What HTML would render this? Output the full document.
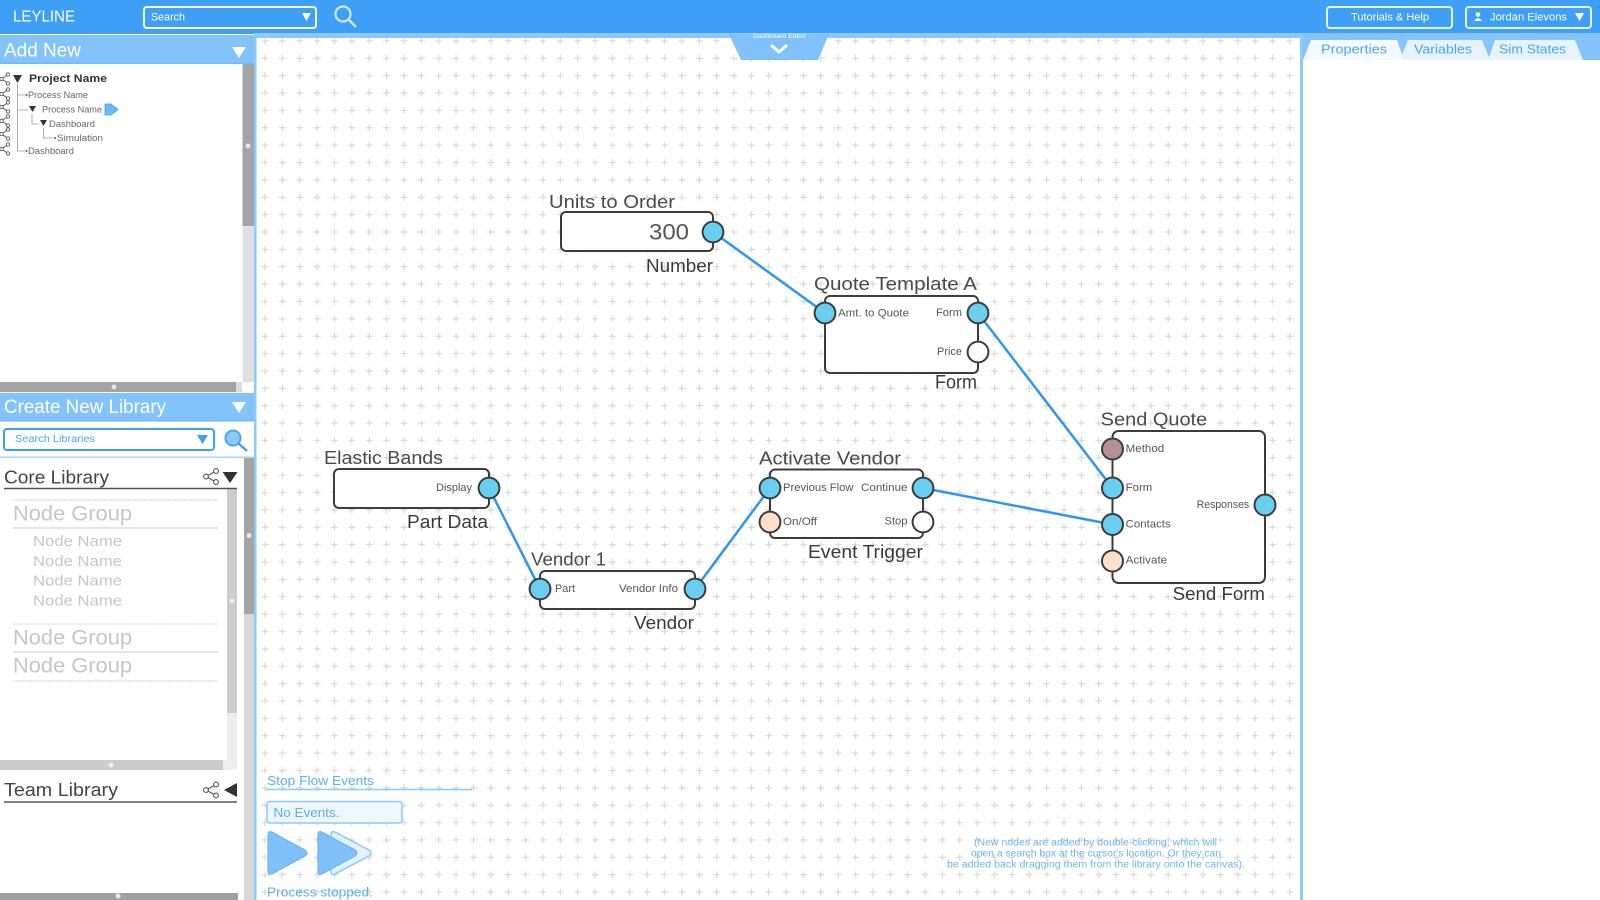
<!DOCTYPE html>
<html><head><meta charset="utf-8"><style>
html,body{margin:0;padding:0;width:1600px;height:900px;overflow:hidden;background:#fff}
svg{display:block;font-family:"Liberation Sans",sans-serif}
</style></head><body>
<svg width="1600" height="900" viewBox="0 0 1600 900" xmlns="http://www.w3.org/2000/svg">
<defs>
<pattern id="grid" x="256.315" y="49.615" width="17.37" height="17.37" patternUnits="userSpaceOnUse">
<path d="M5.2 8.685H12.17M8.685 5.2V12.17" stroke="#d2d2d2" stroke-width="1"/>
</pattern>
<g id="share"><path d="M1.5 0L8 -4.5M1.5 0L8 4.5" stroke="#555" stroke-width="0.9" fill="none"/><circle cx="1.5" cy="0" r="1.7" fill="#fff" stroke="#555" stroke-width="0.9"/><circle cx="8" cy="-4.5" r="1.7" fill="#fff" stroke="#555" stroke-width="0.9"/><circle cx="8" cy="4.5" r="1.7" fill="#fff" stroke="#555" stroke-width="0.9"/></g>
<g id="share2"><path d="M3 0L13 -5.5M3 0L13 5.5" stroke="#555" stroke-width="1.1" fill="none"/><circle cx="3" cy="0" r="2.4" fill="#fff" stroke="#555" stroke-width="1.1"/><circle cx="13" cy="-5.5" r="2.4" fill="#fff" stroke="#555" stroke-width="1.1"/><circle cx="13" cy="5.5" r="2.4" fill="#fff" stroke="#555" stroke-width="1.1"/></g>
</defs>

<!-- canvas -->
<rect x="256" y="38" width="1045" height="862" fill="#fff"/>
<rect x="256" y="38" width="1045" height="862" fill="url(#grid)"/>

<!-- top bar -->
<rect x="0" y="0" width="1600" height="34" fill="#3d9ff5"/>
<rect x="254" y="33" width="1050" height="5" fill="#8ec9fb"/>
<text x="13" y="17" dominant-baseline="central" font-size="16" fill="#fff" textLength="62" lengthAdjust="spacingAndGlyphs">LEYLINE</text>
<rect x="144" y="7" width="172" height="21" rx="3" fill="none" stroke="#fff" stroke-width="2"/>
<text x="151" y="17.5" dominant-baseline="central" font-size="11" fill="#fff" textLength="34" lengthAdjust="spacingAndGlyphs">Search</text>
<polygon points="302,13 311,13 306.5,21" fill="#fff"/>
<circle cx="343" cy="14" r="7.5" fill="none" stroke="#cfe6fd" stroke-width="2.2"/>
<line x1="348.5" y1="19.5" x2="356" y2="27" stroke="#cfe6fd" stroke-width="2.5"/>
<rect x="1327" y="7" width="125" height="21" rx="3" fill="none" stroke="#e8f3fe" stroke-width="2"/>
<text x="1351" y="17.5" dominant-baseline="central" font-size="11" fill="#fff" textLength="78" lengthAdjust="spacingAndGlyphs">Tutorials &amp; Help</text>
<rect x="1466" y="7" width="125" height="21" rx="3" fill="none" stroke="#e8f3fe" stroke-width="2"/>
<circle cx="1478" cy="14.5" r="2.3" fill="#fff"/>
<path d="M1474 21 Q1478 15.5 1482 21 Z" fill="#fff"/>
<text x="1490" y="17.5" dominant-baseline="central" font-size="11" fill="#fff" textLength="77" lengthAdjust="spacingAndGlyphs">Jordan Elevons</text>
<polygon points="1575,13 1584,13 1579.5,21" fill="#fff"/>

<!-- dashboard editor tab -->
<polygon points="729,34 829,34 818,60 741,60" fill="#80c1fb"/>
<text x="753" y="37" dominant-baseline="central" font-size="6" fill="#fff" textLength="53" lengthAdjust="spacingAndGlyphs">Dashboard Editor</text>
<polyline points="771,45 779,52 787,45" fill="none" stroke="#fff" stroke-width="3"/>

<!-- canvas borders -->
<rect x="254" y="35" width="2.5" height="865" fill="#8ec9fb"/>
<rect x="1300" y="33" width="3" height="867" fill="#8ec9fb"/>

<!-- right panel -->
<rect x="1303" y="33" width="297" height="867" fill="#fff"/>
<rect x="1303" y="33" width="297" height="27" fill="#85c4fb"/>
<polygon points="1488,60 1495,40 1575,40 1583,60" fill="#e6f3fe"/>
<polygon points="1400,60 1408,40 1482,40 1490,60" fill="#e6f3fe"/>
<polygon points="1303,60 1311,40 1397,40 1404,60" fill="#f4f9ff"/>
<text x="1321" y="49" dominant-baseline="central" font-size="13" fill="#4aa6f5" textLength="66" lengthAdjust="spacingAndGlyphs">Properties</text>
<text x="1414" y="49" dominant-baseline="central" font-size="13" fill="#4aa6f5" textLength="58" lengthAdjust="spacingAndGlyphs">Variables</text>
<text x="1499" y="49" dominant-baseline="central" font-size="13" fill="#4aa6f5" textLength="67" lengthAdjust="spacingAndGlyphs">Sim States</text>

<!-- ========== LEFT PANEL ========== -->
<rect x="0" y="34" width="254" height="866" fill="#fff"/>
<rect x="0" y="35" width="254" height="29" fill="#83c3fb"/>
<rect x="0" y="62.5" width="254" height="1.5" fill="#6fb8fa"/>
<text x="4" y="51" dominant-baseline="central" font-size="19" fill="#fff" textLength="77" lengthAdjust="spacingAndGlyphs">Add New</text>
<polygon points="232,47 246,47 239,58" fill="#fff"/>

<!-- tree -->
<use href="#share" x="0" y="79"/>
<use href="#share" x="0" y="94"/>
<use href="#share" x="0" y="107"/>
<use href="#share" x="0" y="121"/>
<use href="#share" x="0" y="134"/>
<use href="#share" x="0" y="149"/>
<g stroke="#9a9a9a" stroke-width="0.8" fill="none">
<path d="M17.5 84V151H25M17.5 95H25M17.5 110H28"/>
<path d="M32 114V124H39"/>
<path d="M43.5 128V138H53"/>
</g>
<polygon points="13,75 22,75 17.5,83" fill="#333"/>
<text x="29" y="79" dominant-baseline="central" font-size="11" font-weight="bold" fill="#333" textLength="78" lengthAdjust="spacingAndGlyphs">Project Name</text>
<circle cx="26.5" cy="95" r="1" fill="#555"/>
<text x="28" y="95" dominant-baseline="central" font-size="9" fill="#666" textLength="60" lengthAdjust="spacingAndGlyphs">Process Name</text>
<polygon points="29,106 36,106 32.5,112" fill="#333"/>
<text x="42" y="109.5" dominant-baseline="central" font-size="9" fill="#666" textLength="60" lengthAdjust="spacingAndGlyphs">Process Name</text>
<path d="M105 104 L111 104 L118 109.5 L111 115 L105 115 Z" fill="#6db8f8" stroke="#3d9ff5" stroke-width="0.8"/>
<polygon points="40,120 47,120 43.5,126" fill="#333"/>
<text x="49" y="124" dominant-baseline="central" font-size="9" fill="#666" textLength="46" lengthAdjust="spacingAndGlyphs">Dashboard</text>
<circle cx="55" cy="138" r="1" fill="#555"/>
<text x="57" y="138" dominant-baseline="central" font-size="9" fill="#666" textLength="46" lengthAdjust="spacingAndGlyphs">Simulation</text>
<circle cx="26.5" cy="151" r="1" fill="#555"/>
<text x="28" y="151" dominant-baseline="central" font-size="9" fill="#666" textLength="46" lengthAdjust="spacingAndGlyphs">Dashboard</text>

<!-- scrollbars top section -->
<rect x="242.5" y="64" width="11.5" height="162" fill="#a4a4a4"/>
<rect x="242.5" y="226" width="11.5" height="156" fill="#e0e0e0"/>
<circle cx="248" cy="146" r="2.5" fill="#e6e6e6"/>
<rect x="0" y="382" width="236" height="10" fill="#a4a4a4"/>
<rect x="236" y="382" width="6" height="10" fill="#dcdcdc"/>
<circle cx="114" cy="387" r="2.5" fill="#e6e6e6"/>

<!-- Create new library -->
<rect x="0" y="393" width="254" height="28" fill="#83c3fb"/>
<rect x="0" y="420" width="254" height="1.5" fill="#6fb8fa"/>
<text x="4" y="407.5" dominant-baseline="central" font-size="19" fill="#fff" textLength="162" lengthAdjust="spacingAndGlyphs">Create New Library</text>
<polygon points="232,402 246,402 239,413" fill="#fff"/>
<rect x="4" y="429" width="210" height="21" rx="3" fill="#fff" stroke="#3d9ff5" stroke-width="2"/>
<text x="15" y="439.5" dominant-baseline="central" font-size="10" fill="#4aa6f5" textLength="80" lengthAdjust="spacingAndGlyphs">Search Libraries</text>
<polygon points="197,435 208,435 202.5,444" fill="#3d9ff5"/>
<circle cx="233" cy="438" r="7.5" fill="#8ccafc" stroke="#4aa6f5" stroke-width="2"/>
<line x1="238.5" y1="443.5" x2="247" y2="451" stroke="#3d9ff5" stroke-width="2.5"/>
<rect x="0" y="456.5" width="254" height="1.5" fill="#a8d4fb"/>

<!-- core library scrollbars -->
<rect x="244" y="458" width="10" height="156" fill="#a4a4a4"/>
<rect x="244" y="614" width="10" height="286" fill="#d8d8d8"/>
<circle cx="249" cy="535.5" r="2.5" fill="#e6e6e6"/>
<rect x="227" y="489" width="10" height="224" fill="#cccccc"/>
<rect x="227" y="713" width="10" height="47" fill="#ececec"/>
<circle cx="232" cy="601" r="2.3" fill="#eee"/>
<rect x="0" y="760" width="223" height="10" fill="#cccccc"/>
<rect x="223" y="760" width="14" height="10" fill="#eeeeee"/>
<circle cx="111" cy="765" r="2.5" fill="#eee"/>

<text x="4" y="477.5" dominant-baseline="central" font-size="18" fill="#444" textLength="105" lengthAdjust="spacingAndGlyphs">Core Library</text>
<use href="#share2" x="203" y="476.5"/>
<polygon points="222.5,472 237.5,472 230,483" fill="#333"/>
<line x1="4" y1="488.5" x2="237" y2="488.5" stroke="#555" stroke-width="1.5"/>

<g stroke="#c9c9c9" stroke-width="1">
<line x1="13" y1="500" x2="218" y2="500" stroke-dasharray="1.5,1"/>
<line x1="13" y1="528" x2="218" y2="528"/>
<line x1="13" y1="624" x2="218" y2="624" stroke-dasharray="1.5,1"/>
<line x1="13" y1="652" x2="218" y2="652"/>
<line x1="13" y1="681" x2="218" y2="681" stroke-dasharray="1.5,1"/>
</g>
<text x="13" y="514" dominant-baseline="central" font-size="21" fill="#c6c6c6" textLength="119" lengthAdjust="spacingAndGlyphs">Node Group</text>
<text x="33" y="541.5" dominant-baseline="central" font-size="15" fill="#c6c6c6" textLength="89" lengthAdjust="spacingAndGlyphs">Node Name</text>
<text x="33" y="561.5" dominant-baseline="central" font-size="15" fill="#c6c6c6" textLength="89" lengthAdjust="spacingAndGlyphs">Node Name</text>
<text x="33" y="581" dominant-baseline="central" font-size="15" fill="#c6c6c6" textLength="89" lengthAdjust="spacingAndGlyphs">Node Name</text>
<text x="33" y="601" dominant-baseline="central" font-size="15" fill="#c6c6c6" textLength="89" lengthAdjust="spacingAndGlyphs">Node Name</text>
<text x="13" y="638" dominant-baseline="central" font-size="21" fill="#c6c6c6" textLength="119" lengthAdjust="spacingAndGlyphs">Node Group</text>
<text x="13" y="666" dominant-baseline="central" font-size="21" fill="#c6c6c6" textLength="119" lengthAdjust="spacingAndGlyphs">Node Group</text>

<!-- team library -->
<text x="4" y="790" dominant-baseline="central" font-size="18" fill="#444" textLength="114" lengthAdjust="spacingAndGlyphs">Team Library</text>
<use href="#share2" x="203" y="790"/>
<polygon points="237,783 237,797 224,790" fill="#333"/>
<line x1="4" y1="802" x2="237" y2="802" stroke="#555" stroke-width="1.5"/>
<rect x="0" y="893" width="238" height="7" fill="#a0a0a0"/>
<circle cx="118" cy="896" r="2.5" fill="#e6e6e6"/>

<!-- ========== CANVAS CONTENT ========== -->
<!-- connectors -->
<g stroke="#2f96ef" stroke-width="2.5" fill="none" stroke-linecap="round">
<line x1="713" y1="232" x2="825" y2="313"/>
<line x1="978" y1="313" x2="1112.5" y2="488"/>
<line x1="489" y1="488" x2="540" y2="589"/>
<line x1="695" y1="589" x2="770" y2="488"/>
<line x1="923" y1="488" x2="1112.5" y2="524.5"/>
</g>

<!-- node boxes -->
<g fill="#fff" stroke="#3c3c3c" stroke-width="2">
<rect x="561" y="212" width="152" height="39" rx="5"/>
<rect x="825" y="296" width="153" height="77" rx="5"/>
<rect x="334" y="469" width="155" height="39" rx="5"/>
<rect x="540" y="571" width="155" height="38" rx="5"/>
<rect x="770" y="469.5" width="153" height="68.5" rx="5"/>
<rect x="1112.5" y="431" width="152.5" height="152" rx="6"/>
</g>

<!-- ports -->
<g stroke="#3c3c3c" stroke-width="2">
<circle cx="713" cy="232" r="10.4" fill="#69cff0"/>
<circle cx="825" cy="313" r="10.4" fill="#69cff0"/>
<circle cx="978" cy="313" r="10.4" fill="#69cff0"/>
<circle cx="978" cy="352" r="10.4" fill="#fff"/>
<circle cx="489" cy="488" r="10.4" fill="#69cff0"/>
<circle cx="540" cy="589" r="10.4" fill="#69cff0"/>
<circle cx="695" cy="589" r="10.4" fill="#69cff0"/>
<circle cx="770" cy="488" r="10.4" fill="#69cff0"/>
<circle cx="923" cy="488" r="10.4" fill="#69cff0"/>
<circle cx="770" cy="522" r="10.4" fill="#fde0c9"/>
<circle cx="923" cy="522" r="10.4" fill="#fff"/>
<circle cx="1112.5" cy="449" r="10.5" fill="#b59196"/>
<circle cx="1112.5" cy="488" r="10.5" fill="#69cff0"/>
<circle cx="1112.5" cy="524.5" r="10.5" fill="#69cff0"/>
<circle cx="1112.5" cy="561" r="10.5" fill="#fde0c9"/>
<circle cx="1265" cy="505" r="10.5" fill="#69cff0"/>
</g>

<!-- node text -->
<g fill="#4a4a4a">
<text x="549" y="202" dominant-baseline="central" font-size="18" textLength="126" lengthAdjust="spacingAndGlyphs">Units to Order</text>
<text x="649" y="232" dominant-baseline="central" font-size="22" fill="#555" textLength="40" lengthAdjust="spacingAndGlyphs">300</text>
<text x="646" y="266" dominant-baseline="central" font-size="18" fill="#3a3a3a" textLength="67" lengthAdjust="spacingAndGlyphs">Number</text>

<text x="814" y="284" dominant-baseline="central" font-size="18" textLength="163" lengthAdjust="spacingAndGlyphs">Quote Template A</text>
<text x="838" y="313.5" dominant-baseline="central" font-size="11" fill="#555" textLength="71" lengthAdjust="spacingAndGlyphs">Amt. to Quote</text>
<text x="936" y="313" dominant-baseline="central" font-size="11" fill="#555" textLength="26" lengthAdjust="spacingAndGlyphs">Form</text>
<text x="937" y="352" dominant-baseline="central" font-size="11" fill="#555" textLength="25" lengthAdjust="spacingAndGlyphs">Price</text>
<text x="935" y="383" dominant-baseline="central" font-size="19" fill="#3a3a3a" textLength="42" lengthAdjust="spacingAndGlyphs">Form</text>

<text x="324" y="458" dominant-baseline="central" font-size="18" textLength="119" lengthAdjust="spacingAndGlyphs">Elastic Bands</text>
<text x="436" y="488" dominant-baseline="central" font-size="11" fill="#555" textLength="36" lengthAdjust="spacingAndGlyphs">Display</text>
<text x="407" y="522" dominant-baseline="central" font-size="18" fill="#3a3a3a" textLength="81" lengthAdjust="spacingAndGlyphs">Part Data</text>

<text x="531" y="559.5" dominant-baseline="central" font-size="18" textLength="75" lengthAdjust="spacingAndGlyphs">Vendor 1</text>
<text x="555" y="589" dominant-baseline="central" font-size="11" fill="#555" textLength="20" lengthAdjust="spacingAndGlyphs">Part</text>
<text x="619" y="589" dominant-baseline="central" font-size="11" fill="#555" textLength="59" lengthAdjust="spacingAndGlyphs">Vendor Info</text>
<text x="634" y="623" dominant-baseline="central" font-size="18" fill="#3a3a3a" textLength="60" lengthAdjust="spacingAndGlyphs">Vendor</text>

<text x="759" y="458.5" dominant-baseline="central" font-size="18" textLength="142" lengthAdjust="spacingAndGlyphs">Activate Vendor</text>
<text x="783" y="488" dominant-baseline="central" font-size="11" fill="#555" textLength="70.5" lengthAdjust="spacingAndGlyphs">Previous Flow</text>
<text x="861" y="488" dominant-baseline="central" font-size="11" fill="#555" textLength="46.5" lengthAdjust="spacingAndGlyphs">Continue</text>
<text x="783" y="522" dominant-baseline="central" font-size="11" fill="#555" textLength="34" lengthAdjust="spacingAndGlyphs">On/Off</text>
<text x="884.5" y="521.5" dominant-baseline="central" font-size="11" fill="#555" textLength="23" lengthAdjust="spacingAndGlyphs">Stop</text>
<text x="808" y="552" dominant-baseline="central" font-size="18" fill="#3a3a3a" textLength="115" lengthAdjust="spacingAndGlyphs">Event Trigger</text>

<text x="1100.7" y="419.5" dominant-baseline="central" font-size="18" textLength="106.5" lengthAdjust="spacingAndGlyphs">Send Quote</text>
<text x="1125.7" y="449" dominant-baseline="central" font-size="11" fill="#555" textLength="38.5" lengthAdjust="spacingAndGlyphs">Method</text>
<text x="1125.7" y="488" dominant-baseline="central" font-size="11" fill="#555" textLength="26.5" lengthAdjust="spacingAndGlyphs">Form</text>
<text x="1125.7" y="524.5" dominant-baseline="central" font-size="11" fill="#555" textLength="45" lengthAdjust="spacingAndGlyphs">Contacts</text>
<text x="1125.7" y="560.5" dominant-baseline="central" font-size="11" fill="#555" textLength="41.5" lengthAdjust="spacingAndGlyphs">Activate</text>
<text x="1196.7" y="505" dominant-baseline="central" font-size="11" fill="#555" textLength="52.5" lengthAdjust="spacingAndGlyphs">Responses</text>
<text x="1172.7" y="594" dominant-baseline="central" font-size="18" fill="#3a3a3a" textLength="92.3" lengthAdjust="spacingAndGlyphs">Send Form</text>
</g>

<!-- stop flow events -->
<text x="267" y="780.5" dominant-baseline="central" font-size="13" fill="#5aaef7" textLength="107" lengthAdjust="spacingAndGlyphs">Stop Flow Events</text>
<line x1="266" y1="789.5" x2="472" y2="789.5" stroke="#8ec9fb" stroke-width="1.5"/>
<rect x="267" y="801.5" width="135" height="21.5" rx="3" fill="#eef6ff" stroke="#8ec9fb" stroke-width="1.5"/>
<text x="273.5" y="812.5" dominant-baseline="central" font-size="13" fill="#5aaef7" textLength="66" lengthAdjust="spacingAndGlyphs">No Events.</text>
<path d="M268 835 Q268 830 272.5 832.3 L305 850 Q309 853 305 856 L272.5 873.7 Q268 876 268 871 Z" fill="#7fc0fb" stroke="#5fb0f7" stroke-width="1"/>
<path d="M331 835 Q331 830 335.5 832.3 L369 850 Q373 853 369 856 L335.5 873.7 Q331 876 331 871 Z" fill="#e3f1fe" stroke="#8ec9fb" stroke-width="1.5"/>
<path d="M318 835 Q318 830 322.5 832.3 L355 850 Q359 853 355 856 L322.5 873.7 Q318 876 318 871 Z" fill="#7fc0fb" stroke="#5fb0f7" stroke-width="1"/>
<text x="267" y="892" dominant-baseline="central" font-size="13" fill="#5aaef7" textLength="106" lengthAdjust="spacingAndGlyphs">Process stopped.</text>

<!-- help text -->
<g font-size="10" fill="#6ab4f7">
<text x="974" y="843" dominant-baseline="central" textLength="243" lengthAdjust="spacingAndGlyphs">(New nodes are added by double-clicking, which will</text>
<text x="971" y="854" dominant-baseline="central" textLength="250" lengthAdjust="spacingAndGlyphs">open a search box at the cursor's location. Or they can</text>
<text x="947" y="865" dominant-baseline="central" textLength="298" lengthAdjust="spacingAndGlyphs">be added back dragging them from the library onto the canvas).</text>
</g>
</svg>
</body></html>
